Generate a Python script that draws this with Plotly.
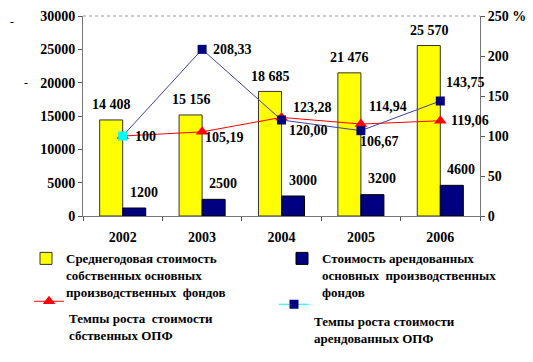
import plotly.graph_objects as go

years = ["2002", "2003", "2004", "2005", "2006"]
own_cost = [14408, 15156, 18685, 21476, 25570]
own_labels = ["14 408", "15 156", "18 685", "21 476", "25 570"]
leased_cost = [1200, 2500, 3000, 3200, 4600]
leased_labels = ["1200", "2500", "3000", "3200", "4600"]
own_growth = [100, 105.19, 123.28, 114.94, 119.06]
own_growth_labels = ["", "105,19", "123,28", "114,94", "119,06"]
leased_growth = [100, 208.33, 120.00, 106.67, 143.75]
leased_growth_labels = ["100", "208,33", "120,00", "106,67", "143,75"]

left_ticks = [0, 5000, 10000, 15000, 20000, 25000, 30000]
right_ticks = [0, 50, 100, 150, 200, 250]
right_ticktext = ["0", "50", "100", "150", "200", "250 %"]

name_own = "Среднегодовая стоимость<br>собственных основных<br>производственных  фондов"
name_leased = "Стоимость арендованных<br>основных  производственных<br>фондов"
name_own_growth = " <br>Темпы роста  стоимости<br>сбственных ОПФ"
name_leased_growth = " <br>Темпы роста стоимости<br>арендованных ОПФ"

FONT = "Liberation Serif, Times New Roman, serif"
bold = dict(family=FONT, size=14, color="black", weight="bold")
legfont = dict(family=FONT, size=13, color="black", weight="bold")

fig = go.Figure()
fig.add_trace(go.Bar(x=years, y=own_cost, name=name_own,
                     marker=dict(color="#FFFF00", line=dict(color="#333333", width=1)),
                     legend="legend"))
fig.add_trace(go.Bar(x=years, y=leased_cost, name=name_leased,
                     marker=dict(color="#000080", line=dict(color="#000000", width=1)),
                     legend="legend2"))
fig.add_trace(go.Scatter(x=years, y=own_growth, yaxis="y2", mode="lines+markers",
                         name=name_own_growth,
                         line=dict(color="#FF0000", width=1),
                         marker=dict(symbol="triangle-up", size=11, color="#FF0000"),
                         legend="legend3"))
fig.add_trace(go.Scatter(x=years, y=leased_growth, yaxis="y2", mode="lines+markers",
                         showlegend=False,
                         line=dict(color="#4040A8", width=1),
                         marker=dict(symbol="square", size=9,
                                     color=["#00FFFF"] + ["#000080"] * (len(years) - 1))))
fig.add_trace(go.Scatter(x=[None], y=[None], yaxis="y2", mode="lines+markers",
                         name=name_leased_growth,
                         line=dict(color="#00FFFF", width=1),
                         marker=dict(symbol="square", size=9, color="#000080"),
                         legend="legend4"))

ann = []
for i, (v, t) in enumerate(zip(own_cost, own_labels)):
    ann.append(dict(x=i, y=v, yref="y", text=t, showarrow=False, xshift=-11, yshift=15,
                    font=bold))
for i, (v, t) in enumerate(zip(leased_cost, leased_labels)):
    ann.append(dict(x=i, y=v, yref="y", text=t, showarrow=False, xshift=21, yshift=16,
                    font=bold))
own_off = [(0, 0), (1, -6), (9, 10), (6, 18), (9, 0)]
for i, (v, t, (dx, dy)) in enumerate(zip(own_growth, own_growth_labels, own_off)):
    if t:
        ann.append(dict(x=i, y=v, yref="y2", text=t, showarrow=False, xanchor="left",
                        xshift=dx, yshift=dy, font=bold))
leased_off = [(10, 0), (9, 0), (5, -10), (-3, -11), (4, 19)]
for i, (v, t, (dx, dy)) in enumerate(zip(leased_growth, leased_growth_labels, leased_off)):
    ann.append(dict(x=i, y=v, yref="y2", text=t, showarrow=False, xanchor="left",
                    xshift=dx, yshift=dy, font=bold))
for px, py in [(12, 22), (26, 83)]:
    ann.append(dict(x=(px - 83) / 397, y=(216.5 - py) / 200.5, xref="paper", yref="paper",
                    xanchor="center", yanchor="middle", text="-", showarrow=False,
                    font=dict(family=FONT, size=12, color="black")))


def leg(px, py):
    return dict(x=(px - 83) / 397, y=(216.5 - py) / 200.5, xanchor="left", yanchor="top",
                orientation="v", valign="top", bgcolor="rgba(0,0,0,0)", font=legfont,
                tracegroupgap=0)


fig.update_layout(
    width=533, height=362,
    margin=dict(l=83, r=53, t=16, b=145.5, autoexpand=False),
    paper_bgcolor="white", plot_bgcolor="white",
    barmode="group", bargap=0.42, bargroupgap=0,
    showlegend=True,
    legend=leg(26, 244),
    legend2=leg(282, 244),
    legend3=leg(29, 287),
    legend4=leg(274, 290),
    xaxis=dict(type="category", range=[-0.5, 4.5], tickson="boundaries", ticks="outside",
               ticklen=4, tickcolor="#555555", showline=True, linecolor="#777777",
               linewidth=1, showgrid=False, tickfont=bold, ticklabelstandoff=8,
               automargin=False),
    yaxis=dict(range=[0, 30000], tickvals=left_ticks, tickformat="d", ticks="outside",
               ticklen=4, tickcolor="#555555", showline=True, linecolor="#777777",
               linewidth=1, showgrid=False, zeroline=False, tickfont=bold, automargin=False),
    yaxis2=dict(range=[0, 250], overlaying="y", side="right", tickvals=right_ticks,
                ticktext=right_ticktext, ticks="outside", ticklen=4, tickcolor="#555555",
                showline=True, linecolor="#777777", linewidth=1, showgrid=False,
                zeroline=False, tickfont=bold, automargin=False),
    shapes=[dict(type="line", xref="paper", yref="paper", x0=0, x1=1, y0=1, y1=1,
                 line=dict(color="#999999", width=1, dash="dot"))],
    annotations=ann,
)

fig.write_html("out.html", config={"displayModeBar": False},
               post_script="document.body.style.margin='0';document.body.style.overflow='hidden';")
